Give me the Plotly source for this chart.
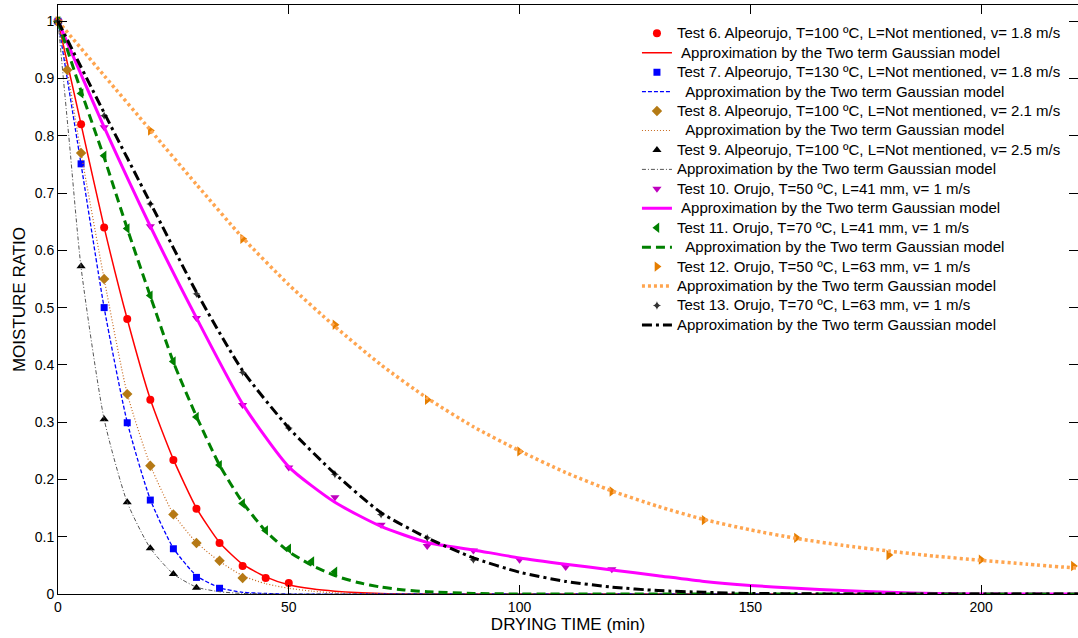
import plotly.graph_objects as go

# ---------------- data ----------------
# Test 6 (Alpeorujo, T=100 C, v=1.8)
t6_x = [0, 5, 10, 15, 20, 25, 30, 35, 40, 45, 50]
t6_y = [1.0, 0.82, 0.64, 0.48, 0.339, 0.234, 0.149, 0.089, 0.049, 0.028, 0.019]
f6_x = [0, 5, 10, 15, 20, 25, 30, 35, 40, 45, 50, 55, 60, 70, 80, 100, 150, 221]
f6_y = [1.0, 0.82, 0.64, 0.48, 0.34, 0.235, 0.15, 0.09, 0.052, 0.03, 0.016, 0.009, 0.005, 0.001, 0, 0, 0, 0]

# Test 7 (Alpeorujo, T=130 C, v=1.8)
t7_x = [0, 5, 10, 15, 20, 25, 30, 35]
t7_y = [1.0, 0.751, 0.5, 0.299, 0.164, 0.079, 0.029, 0.010]
f7_x = [0, 5, 10, 15, 20, 25, 30, 35, 40, 45, 50, 70, 100, 150, 221]
f7_y = [1.0, 0.75, 0.5, 0.3, 0.165, 0.08, 0.032, 0.011, 0.003, 0.001, 0, 0, 0, 0, 0]

# Test 8 (Alpeorujo, T=100 C, v=2.1)
t8_x = [0, 2, 5, 10, 15, 20, 25, 30, 35, 40]
t8_y = [1.0, 0.915, 0.77, 0.55, 0.349, 0.224, 0.139, 0.089, 0.058, 0.028]
f8_x = [0, 2, 5, 10, 15, 20, 25, 30, 35, 40, 45, 50, 55, 60, 70, 100, 150, 221]
f8_y = [1.0, 0.915, 0.77, 0.55, 0.35, 0.225, 0.14, 0.09, 0.057, 0.032, 0.018, 0.01, 0.005, 0.002, 0, 0, 0, 0]

# Test 9 (Alpeorujo, T=100 C, v=2.5)
t9_x = [0, 5, 10, 15, 20, 25, 30]
t9_y = [1.0, 0.572, 0.305, 0.16, 0.08, 0.035, 0.011]
f9_x = [0, 2.5, 5, 10, 15, 20, 25, 30, 35, 40, 50, 70, 100, 150, 221]
f9_y = [1.0, 0.785, 0.57, 0.305, 0.16, 0.08, 0.035, 0.012, 0.004, 0.001, 0, 0, 0, 0, 0]

# Test 10 (Orujo, T=50 C, L=41 mm)
t10_x = [0, 10, 20, 30, 40, 50, 60, 70, 80, 90, 100, 110, 120]
t10_y = [1.0, 0.815, 0.642, 0.482, 0.330, 0.221, 0.169, 0.121, 0.084, 0.076, 0.060, 0.047, 0.043]
f10_x = [0, 10, 20, 30, 40, 50, 60, 70, 80, 90, 100, 110, 120, 130, 140, 150, 160, 170, 180, 190, 200, 221]
f10_y = [1.0, 0.815, 0.642, 0.482, 0.332, 0.222, 0.16, 0.118, 0.09, 0.077, 0.063, 0.052, 0.042, 0.032, 0.022, 0.015, 0.01, 0.006, 0.003, 0.001, 0, 0]

# Test 11 (Orujo, T=70 C, L=41 mm)
t11_x = [0, 5, 10, 15, 20, 25, 30, 35, 40, 45, 50, 55, 60]
t11_y = [1.0, 0.874, 0.765, 0.638, 0.521, 0.406, 0.309, 0.225, 0.158, 0.111, 0.079, 0.057, 0.039]
f11_x = [0, 5, 10, 15, 20, 25, 30, 35, 40, 45, 50, 55, 60, 65, 70, 75, 80, 90, 100, 150, 221]
f11_y = [1.0, 0.878, 0.762, 0.638, 0.52, 0.405, 0.31, 0.225, 0.16, 0.11, 0.074, 0.05, 0.032, 0.02, 0.012, 0.007, 0.004, 0.001, 0, 0, 0]

# Test 12 (Orujo, T=50 C, L=63 mm)
t12_x = [0, 20, 40, 60, 80, 100, 120, 140, 160, 180, 200, 220]
t12_y = [1.0, 0.809, 0.62, 0.47, 0.339, 0.249, 0.179, 0.129, 0.098, 0.068, 0.06, 0.049]
f12_x = [0, 10, 20, 30, 40, 50, 60, 70, 80, 90, 100, 110, 120, 130, 140, 150, 160, 170, 180, 190, 200, 210, 221]
f12_y = [1.0, 0.905, 0.81, 0.715, 0.622, 0.54, 0.467, 0.4, 0.342, 0.292, 0.25, 0.212, 0.18, 0.153, 0.13, 0.112, 0.097, 0.085, 0.075, 0.066, 0.059, 0.052, 0.045]

# Test 13 (Orujo, T=70 C, L=63 mm)
t13_x = [0, 10, 20, 30, 40, 50, 60, 70, 80, 90]
t13_y = [1.0, 0.835, 0.681, 0.524, 0.387, 0.290, 0.209, 0.139, 0.098, 0.060]
f13_x = [0, 10, 20, 30, 40, 50, 60, 70, 80, 90, 100, 110, 120, 130, 140, 150, 170, 221]
f13_y = [1.0, 0.84, 0.683, 0.527, 0.39, 0.29, 0.21, 0.142, 0.098, 0.063, 0.038, 0.022, 0.012, 0.006, 0.003, 0.001, 0, 0]

test_names = [
    "Test 6. Alpeorujo, T=100 \u00baC, L=Not mentioned, v= 1.8 m/s",
    "Test 7. Alpeorujo, T=130 \u00baC, L=Not mentioned, v= 1.8 m/s",
    "Test 8. Alpeorujo, T=100 \u00baC, L=Not mentioned, v= 2.1 m/s",
    "Test 9. Alpeorujo, T=100 \u00baC, L=Not mentioned, v= 2.5 m/s",
    "Test 10. Orujo, T=50 \u00baC, L=41 mm, v= 1 m/s",
    "Test 11. Orujo, T=70 \u00baC, L=41 mm, v= 1 m/s",
    "Test 12. Orujo, T=50 \u00baC, L=63 mm, v= 1 m/s",
    "Test 13. Orujo, T=70 \u00baC, L=63 mm, v= 1 m/s",
]
fit_name = "Approximation by the Two term Gaussian model"
fit_prefix = ["\u00a0", "\u00a0\u00a0", "\u00a0\u00a0", "", "\u00a0", "\u00a0\u00a0", "", ""]

x_ticks = [0, 50, 100, 150, 200]
y_ticks = [0, 0.1, 0.2, 0.3, 0.4, 0.5, 0.6, 0.7, 0.8, 0.9, 1]
y_tick_labels = ["0", "0.1", "0.2", "0.3", "0.4", "0.5", "0.6", "0.7", "0.8", "0.9", "1"]

# ---------------- styles ----------------
series = [
    (t6_x, t6_y, f6_x, f6_y, dict(symbol="circle", size=8, color="#FF0000"), dict(color="#FF0000", width=1.5, dash="solid")),
    (t7_x, t7_y, f7_x, f7_y, dict(symbol="square", size=7, color="#0000FF"), dict(color="#0000FF", width=1.3, dash="4px,2px")),
    (t8_x, t8_y, f8_x, f8_y, dict(symbol="diamond", size=8, color="#B47A14"), dict(color="#C86A1E", width=1.2, dash="1px,2px")),
    (t9_x, t9_y, f9_x, f9_y, dict(symbol="triangle-up", size=8, color="#000000"), dict(color="#555555", width=1, dash="4px,2px,1px,2px")),
    (t10_x, t10_y, f10_x, f10_y, dict(symbol="triangle-down", size=8, color="#BF00BF"), dict(color="#FF00FF", width=3, dash="solid")),
    (t11_x, t11_y, f11_x, f11_y, dict(symbol="triangle-left", size=9, color="#008000"), dict(color="#008000", width=3, dash="9px,5px")),
    (t12_x, t12_y, f12_x, f12_y, dict(symbol="triangle-right", size=9, color="#E67E00"), dict(color="#FFA54F", width=3.5, dash="3px,3px")),
    (t13_x, t13_y, f13_x, f13_y, dict(symbol="star-diamond", size=6, color="#333333"), dict(color="#000000", width=3, dash="10px,4px,3px,4px")),
]

LEG_SPAN = '<span style="font-size:15px">{}</span>'

fig = go.Figure()
for i, (tx, ty, fx, fy, mk, ln) in enumerate(series):
    fig.add_trace(go.Scatter(
        x=tx, y=ty, mode="markers", name=LEG_SPAN.format(test_names[i]),
        marker=dict(symbol=mk["symbol"], size=mk["size"], color=mk["color"], line=dict(width=0)),
        cliponaxis=False,
    ))
    fig.add_trace(go.Scatter(
        x=fx, y=fy, mode="lines", name=LEG_SPAN.format(fit_prefix[i] + fit_name),
        line=dict(color=ln["color"], width=ln["width"], dash=ln["dash"], shape="spline", smoothing=0.6),
    ))

font_family = "Liberation Sans, Arial, sans-serif"

fig.update_layout(
    width=1078, height=638,
    margin=dict(l=58, r=0, t=5, b=44, autoexpand=False),
    paper_bgcolor="white", plot_bgcolor="white",
    font=dict(family=font_family, color="black", size=14),
    showlegend=True,
    legend=dict(
        x=0.5676, y=0.977, xanchor="left", yanchor="top",
        bgcolor="rgba(255,255,255,0)", borderwidth=0,
        font=dict(family=font_family, size=12.65, color="black"),
        itemwidth=30, traceorder="normal",
    ),
    xaxis=dict(
        range=[0, 221], tickvals=x_ticks, ticktext=[str(v) for v in x_ticks],
        ticks="inside", ticklen=9, tickwidth=1, tickcolor="black",
        showline=True, linecolor="black", linewidth=1, mirror="allticks",
        showgrid=False, zeroline=False,
        tickfont=dict(size=14, family=font_family, color="black"),
        title=dict(text="DRYING TIME (min)", font=dict(size=17, family=font_family, color="black"), standoff=4),
    ),
    yaxis=dict(
        range=[0, 1.0283], tickvals=y_ticks, ticktext=y_tick_labels,
        ticks="inside", ticklen=9, tickwidth=1, tickcolor="black",
        showline=True, linecolor="black", linewidth=1, mirror="allticks",
        showgrid=False, zeroline=False,
        tickfont=dict(size=14, family=font_family, color="black"),
        title=dict(text="MOISTURE RATIO", font=dict(size=17, family=font_family, color="black"), standoff=4),
    ),
)

fig.write_html(
    "out.html",
    config={"displayModeBar": False},
    post_script="document.body.style.margin='0px';document.body.style.overflow='hidden';",
)
